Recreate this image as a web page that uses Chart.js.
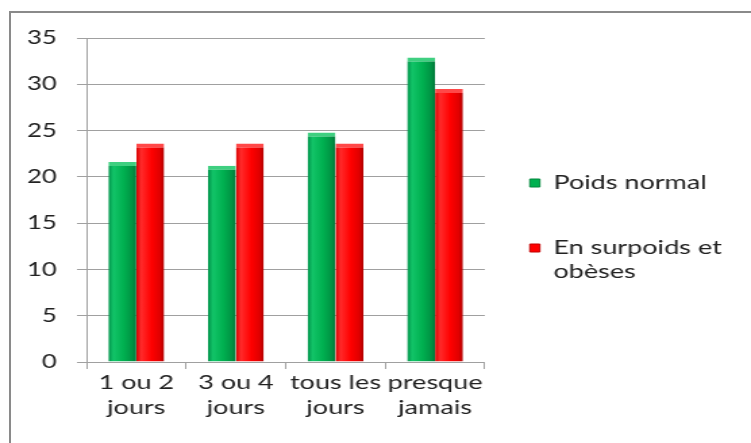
<!DOCTYPE html>
<html lang="fr">
<head>
    <meta charset="UTF-8">
    <title>Poids normal / En surpoids et obèses</title>
    <script src="https://cdn.jsdelivr.net/npm/chart.js"></script>
    <style>
        body {
            margin: 0;
            background: #fff;
            overflow: hidden;
        }
        #frame {
            position: absolute;
            left: 9px;
            top: 11px;
            right: -5px;
            bottom: -5px;
            border-top: 2px solid #8a8a8a;
            border-left: 2px solid #8a8a8a;
            pointer-events: none;
        }
        /* the chart is laid out narrow and stretched sideways, like the wide lettering of the original */
        #wrap {
            position: absolute;
            left: 0;
            top: 0;
            width: 556px;
            height: 443px;
            transform: scaleX(1.3507);
            transform-origin: 0 0;
        }
    </style>
</head>
<body>
    <div id="frame"></div>
    <div id="wrap">
        <canvas id="chart"></canvas>
    </div>

    <script>
        // Categories (two-line labels) and values per group
        const categories = [['1 ou 2', 'jours'], ['3 ou 4', 'jours'], ['tous les', 'jours'], ['presque', 'jamais']];
        const poidsNormal = [21.6, 21.2, 24.8, 32.9];
        const surpoids = [23.6, 23.6, 23.6, 29.5];
        const seriesNames = ['Poids normal', ['En surpoids et', 'obèses']];
        const yMin = 0, yMax = 35, yStep = 5;

        const CAT_PCT = 0.56;
        const FONT = 'Lato, "Noto Sans", sans-serif';

        // horizontal shading so the bars look rounded
        const greenStops = [[0, '#00924a'], [0.18, '#12c468'], [0.55, '#00b050'], [0.85, '#009444'], [1, '#00783a']];
        const redStops = [[0, '#d80000'], [0.18, '#ff2a2a'], [0.55, '#ff0000'], [0.85, '#e00000'], [1, '#b00000']];

        function barFill(stops) {
            return context => {
                const chart = context.chart;
                const x = chart.scales.x;
                if (!chart.chartArea || !x || context.dataIndex === undefined) return stops[2][1];
                const w = x.width / categories.length * CAT_PCT / 2;
                const center = x.getPixelForValue(context.dataIndex);
                const left = context.datasetIndex === 0 ? center - w : center;
                const g = chart.ctx.createLinearGradient(left, 0, left + w, 0);
                stops.forEach(([o, c]) => g.addColorStop(o, c));
                return g;
            };
        }

        // nudge the legend so its boxes sit clear of the plot, level with the middle of it
        const legendPlacement = {
            id: 'legendPlacement',
            afterLayout(chart) {
                const lg = chart.legend;
                const w = lg.width;
                lg.left = chart.chartArea.right - 11.7;
                lg.right = lg.left + w;
                lg.top = 128;
            }
        };

        const ctx = document.getElementById('chart').getContext('2d');
        new Chart(ctx, {
            type: 'bar',
            data: {
                labels: categories,
                datasets: [{
                    label: 'Poids normal',
                    data: poidsNormal,
                    backgroundColor: barFill(greenStops),
                    borderColor: '#3fcf80',
                    borderWidth: { top: 4, left: 0, right: 0, bottom: 0 },
                    categoryPercentage: CAT_PCT,
                    barPercentage: 1
                }, {
                    label: 'En surpoids et obèses',
                    data: surpoids,
                    backgroundColor: barFill(redStops),
                    borderColor: '#ff4848',
                    borderWidth: { top: 4, left: 0, right: 0, bottom: 0 },
                    categoryPercentage: CAT_PCT,
                    barPercentage: 1
                }]
            },
            options: {
                responsive: true,
                maintainAspectRatio: false,
                animation: false,
                layout: {
                    padding: { left: 5, top: 38, right: 0, bottom: 22 }
                },
                plugins: {
                    tooltip: { enabled: false },
                    legend: {
                        position: 'right',
                        align: 'start',
                        maxWidth: 200,
                        labels: {
                            boxWidth: 7.4,
                            boxHeight: 8,
                            padding: 45,
                            color: '#222',
                            font: { family: FONT, size: 20 },
                            generateLabels: chart => chart.data.datasets.map((ds, i) => ({
                                text: seriesNames[i],
                                fillStyle: i === 0 ? '#00b050' : '#ff0000',
                                strokeStyle: i === 0 ? '#00863c' : '#c00000',
                                lineWidth: 1,
                                fontColor: '#222',
                                hidden: false,
                                datasetIndex: i
                            }))
                        }
                    }
                },
                scales: {
                    x: {
                        offset: true,
                        grid: {
                            offset: true,
                            drawOnChartArea: false,
                            drawTicks: true,
                            tickLength: 7,
                            color: '#a0a0a0'
                        },
                        border: { color: '#a0a0a0' },
                        ticks: {
                            padding: 1,
                            color: '#222',
                            maxRotation: 0,
                            font: { family: FONT, size: 20, lineHeight: 1.25 }
                        }
                    },
                    y: {
                        min: yMin,
                        max: yMax,
                        grid: {
                            color: '#a0a0a0',
                            tickLength: 7
                        },
                        border: { color: '#a0a0a0' },
                        ticks: {
                            stepSize: yStep,
                            padding: 15,
                            color: '#222',
                            font: { family: FONT, size: 19 }
                        }
                    }
                }
            },
            plugins: [legendPlacement]
        });
    </script>
</body>
</html>
